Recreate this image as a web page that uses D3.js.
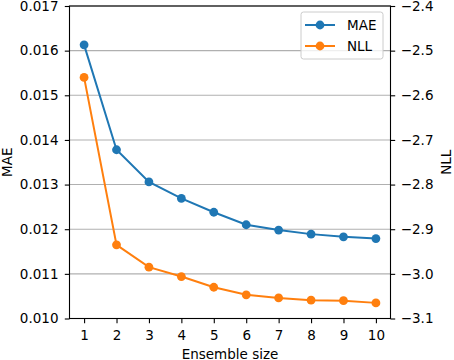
<!DOCTYPE html>
<html><head><meta charset="utf-8">
<script src="https://cdn.jsdelivr.net/npm/d3@7"></script>
<style>body{margin:0;background:#fff}svg{display:block}text{font-family:"DejaVu Sans",sans-serif}</style>
</head><body>
<script>
const ensembleSizes = [1,2,3,4,5,6,7,8,9,10];
const maeValues = [0.01613,0.01378,0.01306,0.01269,0.01238,0.01210,0.01198,0.01189,0.01183,0.01179];
const nllValues = [-2.560,-2.935,-2.985,-3.006,-3.030,-3.047,-3.054,-3.059,-3.060,-3.065];
const maeTicks = [0.010,0.011,0.012,0.013,0.014,0.015,0.016,0.017];
const nllTicks = [-3.1,-3.0,-2.9,-2.8,-2.7,-2.6,-2.5,-2.4];
const seriesNames = ["MAE","NLL"];
const colors = ["#1f77b4","#ff7f0e"];

const W=454,H=360, L=69.5, R=390.5, T=6, B=318.5;
const fs = 13.5;
const svg = d3.select("body").append("svg").attr("width",W).attr("height",H);
const x = d3.scaleLinear().domain([0.55,10.45]).range([L,R]);
const yL = d3.scaleLinear().domain([0.010,0.017]).range([B,T]);
const yR = d3.scaleLinear().domain([-3.1,-2.4]).range([B,T]);

// grid
svg.append("g").selectAll("line").data(maeTicks).join("line")
  .attr("x1",L).attr("x2",R).attr("y1",d=>yL(d)).attr("y2",d=>yL(d))
  .attr("stroke","#b0b0b0").attr("stroke-width",1.1);

const fmtMinus = s => s.replace("-","\u2212");
// axes
const gL = svg.append("g").attr("transform",`translate(${L},0)`)
  .call(d3.axisLeft(yL).tickValues(maeTicks).tickFormat(d3.format(".3f")).tickSize(4.7).tickPadding(6.3));
const gR = svg.append("g").attr("transform",`translate(${R},0)`)
  .call(d3.axisRight(yR).tickValues(nllTicks).tickFormat(d=>fmtMinus(d3.format(".1f")(d))).tickSize(4.7).tickPadding(5.5));
const gB = svg.append("g").attr("transform",`translate(0,${B})`)
  .call(d3.axisBottom(x).tickValues(ensembleSizes).tickFormat(d3.format("d")).tickSize(4.7).tickPadding(7.5));
[gL,gR,gB].forEach(g=>{
  g.select(".domain").remove();
  g.selectAll(".tick line").attr("stroke","#000").attr("stroke-width",1.1);
  g.selectAll(".tick text").attr("font-size",fs).attr("fill","#000").attr("font-family","DejaVu Sans");
});
// spines
svg.append("rect").attr("x",L).attr("y",T).attr("width",R-L).attr("height",B-T)
  .attr("fill","none").attr("stroke","#000").attr("stroke-width",1.1);

// series
const series = [{vals:maeValues,y:yL},{vals:nllValues,y:yR}];
series.forEach((s,i)=>{
  const pts = ensembleSizes.map((e,j)=>[x(e),s.y(s.vals[j])]);
  svg.append("path").attr("d",d3.line()(pts)).attr("fill","none")
    .attr("stroke",colors[i]).attr("stroke-width",2);
  svg.append("g").selectAll("circle").data(pts).join("circle")
    .attr("cx",d=>d[0]).attr("cy",d=>d[1]).attr("r",4.4).attr("fill",colors[i]);
});

// axis labels
svg.append("text").attr("transform",`translate(12,${(T+B)/2}) rotate(-90)`)
  .attr("text-anchor","middle").attr("font-size",fs).text("MAE");
svg.append("text").attr("transform",`translate(451,${(T+B)/2}) rotate(-90)`)
  .attr("text-anchor","middle").attr("font-size",fs).text("NLL");
svg.append("text").attr("x",(L+R)/2).attr("y",358.5).attr("text-anchor","middle")
  .attr("font-size",fs).text("Ensemble size");

// legend
const lg = svg.append("g");
lg.append("rect").attr("x",301).attr("y",12).attr("width",82).attr("height",47).attr("rx",2.5)
  .attr("fill","#fff").attr("fill-opacity",0.8).attr("stroke","#ccc").attr("stroke-width",1);
seriesNames.forEach((n,i)=>{
  const yy = 25 + i*21;
  lg.append("line").attr("x1",305).attr("x2",335).attr("y1",yy).attr("y2",yy)
    .attr("stroke",colors[i]).attr("stroke-width",2);
  lg.append("circle").attr("cx",320).attr("cy",yy).attr("r",4.4).attr("fill",colors[i]);
  lg.append("text").attr("x",347).attr("y",yy).attr("dy","0.35em").attr("font-size",fs).text(n);
});
</script>
</body></html>
